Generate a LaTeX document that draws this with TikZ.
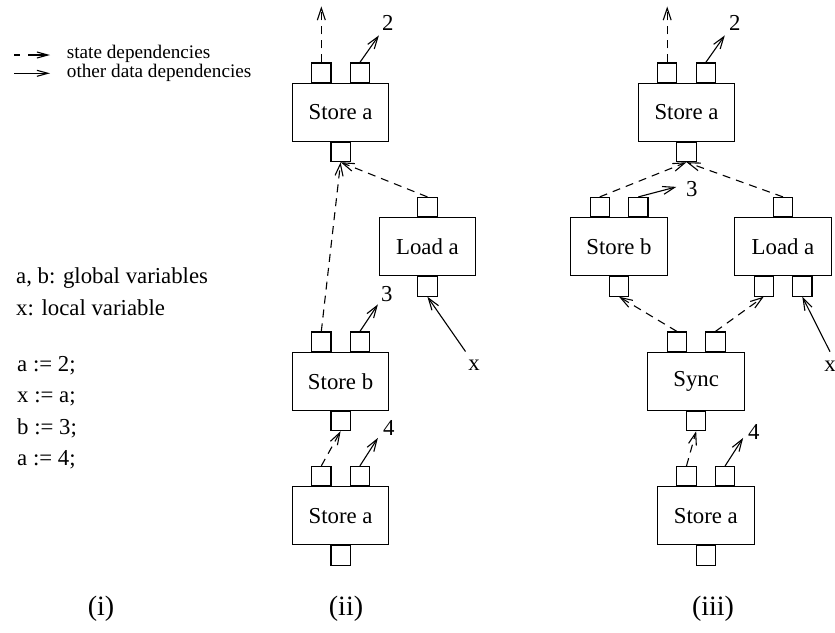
\documentclass[tikz,border=0pt]{standalone}
\usepackage{fontspec}
\setmainfont{Liberation Serif}
\usetikzlibrary{arrows.meta}
\newcommand\mytports[1]{%
  \node[port,anchor=south] (#1-tl) at ([xshift=-19.3pt]#1.north) {};
  \node[port,anchor=south] (#1-tr) at ([xshift=19.3pt]#1.north) {};}
\newcommand\mytport[1]{\node[port,anchor=south] (#1-t) at (#1.north) {};}
\newcommand\mybport[1]{\node[port,anchor=north] (#1-b) at (#1.south) {};}
\newcommand\mybports[1]{%
  \node[port,anchor=north] (#1-bl) at ([xshift=-19.3pt]#1.south) {};
  \node[port,anchor=north] (#1-br) at ([xshift=19.3pt]#1.south) {};}
\begin{document}
\begin{tikzpicture}[x=1pt,y=-1pt,
  every node/.style={inner sep=0pt},
  blk/.style={draw, line width=1.1pt, minimum width=96.5pt, minimum height=57.9pt, font=\fontsize{22.8}{26}\selectfont},
  port/.style={draw, line width=1.1pt, minimum width=19.3pt, minimum height=19.3pt},
  lab/.style={font=\fontsize{22.8}{26}\selectfont},
  leg/.style={font=\fontsize{19.2}{22}\selectfont, anchor=base west},
  captxt/.style={font=\fontsize{28}{32}\selectfont, anchor=base},
  dep/.style={line width=1.1pt, -{Straight Barb[length=12pt,width=8pt]}},
  sdep/.style={dep, dash pattern=on 8pt off 6pt},
]
\useasboundingbox (0,0) rectangle (835,632);

% legend
\coordinate (l1a) at (14,55); \coordinate (l1b) at (50,55);
\coordinate (l2a) at (14,73.3); \coordinate (l2b) at (50,73.3);
\draw[line width=1.1pt, dash pattern=on 6pt off 8pt on 40pt, -{Straight Barb[length=11pt,width=6pt]}] (l1a) -- (l1b);
\draw[line width=1.1pt, -{Straight Barb[length=11pt,width=6pt]}] (l2a) -- (l2b);
\node[leg] (t1) at (66.7,58.5) {state dependencies};
\node[leg] (t2) at (66.7,77) {other data dependencies};

% program text (i)
\node[lab, anchor=base west] (p1) at (16,283.5) {a, b: global variables};
\node[lab, anchor=base west] (p2) at (16,315) {x: local variable};
\node[lab, anchor=base west] (p3) at (17,371) {a := 2;};
\node[lab, anchor=base west] (p4) at (17,402.5) {x := a;};
\node[lab, anchor=base west] (p5) at (17,434) {b := 3;};
\node[lab, anchor=base west] (p6) at (17,465.5) {a := 4;};

% ---------- (ii) ----------
\node[blk] (A1) at (340.6,112.3) {Store a};
\node[blk] (L1) at (427.4,246.8) {Load a};
\node[blk] (B1) at (340.6,381.3) {Store b};
\node[blk] (C1) at (340.6,515.8) {Store a};
\mytports{A1}\mybport{A1}
\mytport{L1}\mybport{L1}
\mytports{B1}\mybport{B1}
\mytports{C1}\mybport{C1}

\coordinate (A1up) at ([yshift=56pt]A1-tl.north);
\draw[sdep] (A1-tl.north) -- (A1up);
\coordinate (A1v) at ([shift={(19pt,27pt)}]A1-tr.north);
\draw[dep] (A1-tr.north) -- (A1v);
\node[lab] (n2a) at ([shift={(28pt,39pt)}]A1-tr.north) {2};

\draw[sdep] (B1-tl.north) -- (A1-b.south);
\draw[sdep] (L1-t.north) -- (A1-b.south);

\node[lab] (x1) at (474,365) {x};
\coordinate (x1s) at (465.5,351.5);
\draw[dep] (x1s) -- (L1-b.south);

\coordinate (B1v) at ([shift={(18pt,27pt)}]B1-tr.north);
\draw[dep] (B1-tr.north) -- (B1v);
\node[lab] (n3a) at ([shift={(27pt,37pt)}]B1-tr.north) {3};

\draw[sdep] (C1-tl.north) -- (B1-b.south);
\coordinate (C1v) at ([shift={(18pt,28pt)}]C1-tr.north);
\draw[dep] (C1-tr.north) -- (C1v);
\node[lab] (n4a) at ([shift={(29pt,38pt)}]C1-tr.north) {4};

% ---------- (iii) ----------
\node[blk] (A2) at (686.5,112.3) {Store a};
\node[blk] (B2) at (619.0,246.8) {Store b};
\node[blk] (L2) at (783.0,246.8) {Load a};
\node[blk] (S2) at (696.15,381.3) {Sync};
\node[blk] (C2) at (705.8,515.8) {Store a};
\mytports{A2}\mybport{A2}
\mytports{B2}\mybport{B2}
\mytport{L2}\mybports{L2}
\mytports{S2}\mybport{S2}
\mytports{C2}\mybport{C2}

\coordinate (A2up) at ([yshift=56pt]A2-tl.north);
\draw[sdep] (A2-tl.north) -- (A2up);
\coordinate (A2v) at ([shift={(19pt,27pt)}]A2-tr.north);
\draw[dep] (A2-tr.north) -- (A2v);
\node[lab] (n2b) at ([shift={(29pt,39pt)}]A2-tr.north) {2};

\draw[sdep] (B2-tl.north) -- (A2-b.south);
\draw[sdep] (L2-t.north) -- (A2-b.south);

\coordinate (B2v) at ([shift={(38pt,10pt)}]B2-tr.north);
\draw[dep] (B2-tr.north) -- (B2v);
\node[lab] (n3b) at ([shift={(53.5pt,8pt)}]B2-tr.north) {3};

\draw[sdep] (S2-tl.north) -- (B2-b.south);
\draw[sdep] (S2-tr.north) -- (L2-bl.south);

\node[lab] (x2) at (830,366) {x};
\coordinate (x2s) at (830,351.7);
\draw[dep] (x2s) -- (L2-br.south);

\draw[sdep] (C2-tl.north) -- (S2-b.south);
\coordinate (C2v) at ([shift={(18pt,28pt)}]C2-tr.north);
\draw[dep] (C2-tr.north) -- (C2v);
\node[lab] (n4b) at ([shift={(28.6pt,34.4pt)}]C2-tr.north) {4};

% captions
\node[captxt] (c1) at (101,615) {(i)};
\node[captxt] (c2) at (346,615) {(ii)};
\node[captxt] (c3) at (713,615) {(iii)};
\end{tikzpicture}
\end{document}
